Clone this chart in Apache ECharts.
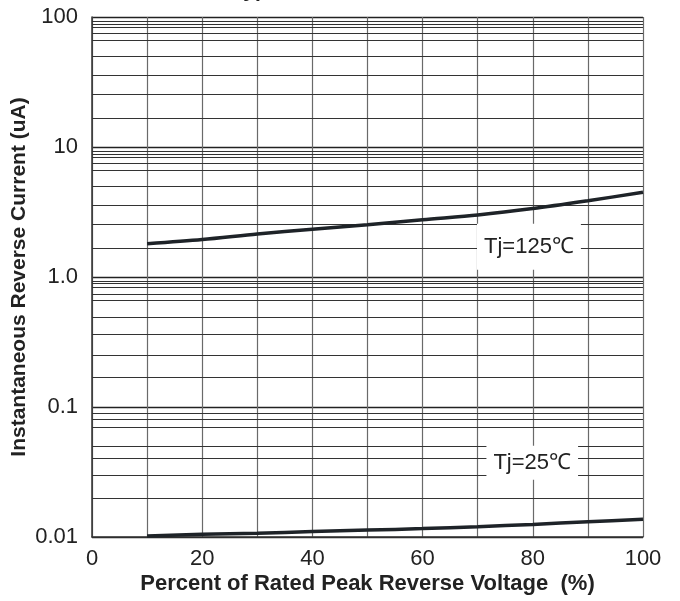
<!DOCTYPE html>
<html>
<head>
<meta charset="utf-8">
<script src="https://cdn.jsdelivr.net/npm/echarts@6/dist/echarts.min.js"></script>
<style>html,body{margin:0;padding:0;background:#fff}#c{width:680px;height:601px}</style>
</head>
<body>
<div id="c"></div>
<script>
var titleText = 'Typical Reverse Characteristics';
var xTitle = 'Percent of Rated Peak Reverse Voltage  (%)';
var yTitle = 'Instantaneous Reverse Current (uA)';
var xValues = [10, 20, 30, 40, 50, 60, 70, 80, 90, 100];
var current125 = [1.80, 1.94, 2.14, 2.33, 2.52, 2.76, 3.00, 3.36, 3.86, 4.48];
var current25 = [0.0102, 0.0105, 0.0107, 0.0110, 0.0113, 0.0116, 0.0120, 0.0125, 0.0131, 0.0137];
var decades = [0.01, 0.1, 1, 10];
var paperSteps = [1.65, 2.54, 3.56, 4.95, 6.57, 7.45, 8.37, 8.87, 9.25];
var yTickLabels = {'0.01': '0.01', '0.1': '0.1', '1': '1.0', '10': '10', '100': '100'};
var label125 = {text: 'Tj=125\u2103', x: 79.3, y: 1.71};
var label25 = {text: 'Tj=25\u2103', x: 79.9, y: 0.0373};

var minorLines = [];
decades.forEach(function (d) {
  paperSteps.forEach(function (s) {
    minorLines.push({yAxis: +(d * s).toPrecision(4)});
  });
});

function pairs(xs, ys) { return xs.map(function (x, i) { return [x, ys[i]]; }); }

var chart = echarts.init(document.getElementById('c'));
chart.setOption({
  animation: false,
  backgroundColor: '#fff',
  textStyle: {fontFamily: 'Liberation Sans, Arial, sans-serif'},
  graphic: [{
    type: 'text', left: 232, top: -19, silent: true,
    style: {text: titleText, font: 'bold 21px "Liberation Sans", Arial, sans-serif', fill: '#222'}
  }],
  grid: {left: 92, right: 37, top: 17, bottom: 64, containLabel: false, outerBoundsMode: 'none'},
  xAxis: {
    type: 'value', min: 0, max: 100, interval: 10,
    name: xTitle, nameLocation: 'middle', nameGap: 36, nameMoveOverlap: false,
    nameTextStyle: {fontSize: 22, fontWeight: 'bold', color: '#222'},
    axisLine: {show: true, lineStyle: {color: '#333', width: 1.5}},
    axisTick: {show: false},
    axisLabel: {
      fontSize: 22, color: '#222', margin: 11,
      formatter: function (v) { return v % 20 === 0 ? String(v) : ''; }
    },
    splitLine: {show: true, lineStyle: {color: '#6a6a6a', width: 1.2}}
  },
  yAxis: {
    type: 'log', logBase: 10, min: 0.01, max: 100,
    name: yTitle, nameLocation: 'middle', nameGap: 62, nameMoveOverlap: false,
    nameTextStyle: {fontSize: 21, fontWeight: 'bold', color: '#222'},
    axisLine: {show: true, lineStyle: {color: '#333', width: 1.5}},
    axisTick: {show: false},
    axisLabel: {
      fontSize: 22, color: '#222', margin: 14, padding: [0, 0, 9, 0],
      formatter: function (v) {
        var k = String(+v.toPrecision(3));
        return yTickLabels[k] !== undefined ? yTickLabels[k] : k;
      }
    },
    splitLine: {show: true, lineStyle: {color: '#222', width: 1.3}}
  },
  series: [
    {
      type: 'line', data: [], silent: true,
      markLine: {
        silent: true, symbol: ['none', 'none'], label: {show: false},
        lineStyle: {color: '#333', width: 1.2, type: 'solid'},
        data: minorLines
      }
    },
    {
      name: '125', type: 'line', data: pairs(xValues, current125),
      smooth: 0.3, showSymbol: false, z: 5,
      lineStyle: {color: '#1e2328', width: 3.5},
      markPoint: {
        symbol: 'rect', symbolSize: 1, itemStyle: {color: 'rgba(0,0,0,0)'},
        label: {show: true, position: 'inside', formatter: label125.text, fontSize: 22, color: '#222',
          backgroundColor: '#fff', padding: [12, 7]},
        data: [{coord: [label125.x, label125.y]}]
      }
    },
    {
      name: '25', type: 'line', data: pairs(xValues, current25),
      smooth: 0.3, showSymbol: false, z: 5,
      lineStyle: {color: '#1e2328', width: 3.5},
      markPoint: {
        symbol: 'rect', symbolSize: 1, itemStyle: {color: 'rgba(0,0,0,0)'},
        label: {show: true, position: 'inside', formatter: label25.text, fontSize: 22, color: '#222',
          backgroundColor: '#fff', padding: [6, 7]},
        data: [{coord: [label25.x, label25.y]}]
      }
    }
  ]
});
</script>
</body>
</html>
